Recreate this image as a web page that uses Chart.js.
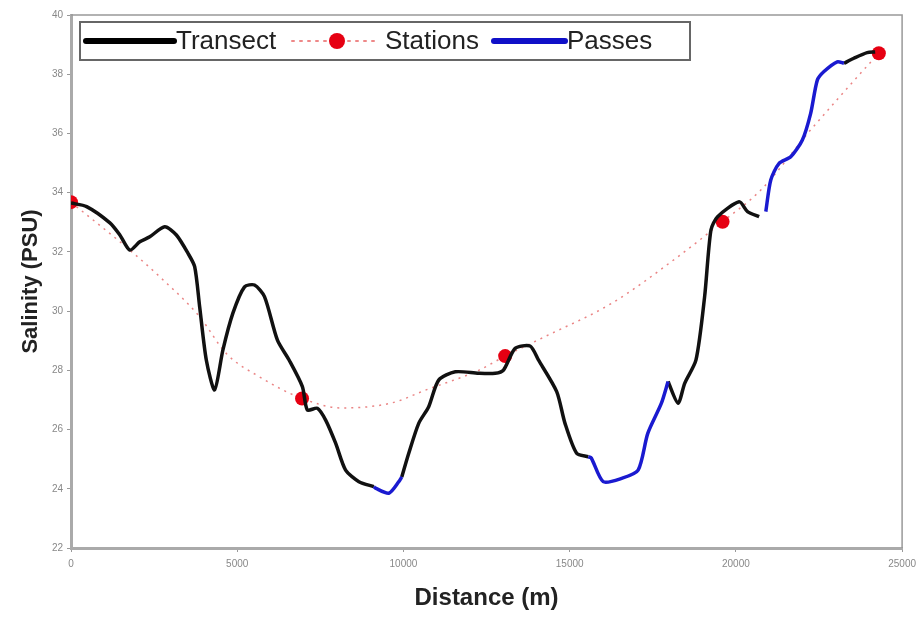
<!doctype html>
<html>
<head>
<meta charset="utf-8">
<script src="https://cdn.jsdelivr.net/npm/chart.js@4.4.0/dist/chart.umd.min.js"></script>
<style>
  html, body { margin: 0; background: #fff; }
</style>
</head>
<body>
<canvas id="c" width="922" height="619"></canvas>
<script>
// transect trace (distance m, salinity PSU)
var transectDist = [0, 470, 1170, 1470, 1770, 2070, 2370, 2820, 3170, 3520, 3720, 3870, 4070, 4320, 4570, 4870,
  5220, 5520, 5820, 6210, 6560, 6960, 7110, 7410, 7660, 7960, 8260, 8660, 9110, 9160, 9560, 9860, 9950,
  10160, 10460, 10760, 11060, 11560, 12260, 12760, 13010, 13360, 13810, 14060, 14610, 14860, 15210, 15560,
  15650, 16010, 16560, 17060, 17350, 17760, 17960, 18260, 18460, 18800, 19060, 19250, 19450, 20100, 20350,
  20700, 20900, 21050, 21300, 21650, 22000, 22250, 22450, 22650, 23050, 23250, 23550, 23950, 24190];
var transectSal = [33.65, 33.53, 32.98, 32.57, 32.06, 32.34, 32.51, 32.85, 32.57, 31.95, 31.5, 30.15, 28.35, 27.34, 28.69, 29.93,
  30.82, 30.88, 30.49, 29.02, 28.35, 27.45, 26.66, 26.72, 26.32, 25.54, 24.63, 24.24, 24.07, 24.02, 23.85, 24.24, 24.4,
  25.2, 26.21, 26.77, 27.67, 27.95, 27.9, 27.9, 28.01, 28.74, 28.82, 28.35, 27.28, 26.21, 25.2, 25.08,
  25.04, 24.24, 24.35, 24.63, 25.87, 26.89, 27.62, 26.89, 27.56, 28.35, 30.49, 32.74, 33.19, 33.69, 33.36,
  33.19, 33.36, 34.43, 34.99, 35.21, 35.78, 36.68, 37.8, 38.09, 38.42, 38.37, 38.54, 38.73, 38.75];

// stretches of the transect that are passes (blue), start/end distances
var passRanges = [[9110, 9950], [15560, 17960], [20900, 23250]];
// where the recorded transect has a hole
var transectGaps = [20800];

var stationDist = [0, 6950, 13060, 19600, 24300];
var stationSal = [33.68, 27.05, 28.48, 33.02, 38.71];

// dotted curve through the stations
var fitDist = [1770, 2670, 3870, 4670, 5670, 8150, 9650, 10660, 12260, 14260, 16260, 18260, 20750, 22250, 23750];
var fitSal = [32.06, 31.16, 29.81, 28.57, 27.78, 26.73, 26.9, 27.33, 28.0, 29.14, 30.26, 31.84, 34.09, 36.12, 38.03];

var xTicks = [0, 5000, 10000, 15000, 20000, 25000];
var yTicks = [22, 24, 26, 28, 30, 32, 34, 36, 38, 40];

function passOf(d) {
  for (var i = 0; i < passRanges.length; i++) {
    if (d >= passRanges[i][0] && d <= passRanges[i][1]) return i;
  }
  return -1;
}

var blackData = [];
var blueData = [];
for (var i = 0; i < transectDist.length; i++) {
  var d = transectDist[i], s = transectSal[i];
  var r = passOf(d);
  var inside = r >= 0 && d > passRanges[r][0] && d < passRanges[r][1];
  var isStart = r >= 0 && d == passRanges[r][0];
  // a pass start right after a gap belongs only to the blue line
  var afterGap = isStart && transectGaps.some(function(g) { return g < d && i > 0 && g > transectDist[i - 1]; });
  blackData.push({x: d, y: (inside || afterGap) ? null : s});
  blueData.push({x: d, y: r >= 0 ? s : null});
}
transectGaps.forEach(function(g) { blackData.push({x: g, y: null}); });
blackData.sort(function(a, b) { return a.x - b.x; });

var fitData = [];
for (var i = 0; i < stationDist.length; i++) fitData.push({x: stationDist[i], y: stationSal[i], st: true});
for (var i = 0; i < fitDist.length; i++) fitData.push({x: fitDist[i], y: fitSal[i], st: false});
fitData.sort(function(a, b) { return a.x - b.x; });

var FONT = "'Liberation Sans', Arial, sans-serif";

var legendBox = {
  id: 'legendBox',
  afterDraw: function(chart) {
    var ctx = chart.ctx, ca = chart.chartArea;
    ctx.save();
    // frame top/right
    ctx.strokeStyle = '#999';
    ctx.lineWidth = 1.5;
    ctx.beginPath();
    ctx.moveTo(ca.left, ca.top); ctx.lineTo(ca.right, ca.top); ctx.lineTo(ca.right, ca.bottom);
    ctx.stroke();

    var x0 = ca.left + 9, y0 = ca.top + 7, w = 610, h = 38, cy = y0 + h / 2;
    ctx.fillStyle = '#fff';
    ctx.fillRect(x0, y0, w, h);
    ctx.strokeStyle = '#666';
    ctx.lineWidth = 2;
    ctx.strokeRect(x0, y0, w, h);

    ctx.font = '26px ' + FONT;
    ctx.fillStyle = '#222';
    ctx.textBaseline = 'middle';

    ctx.lineCap = 'round';
    ctx.strokeStyle = '#000';
    ctx.lineWidth = 6;
    ctx.beginPath(); ctx.moveTo(x0 + 6, cy); ctx.lineTo(x0 + 94, cy); ctx.stroke();
    ctx.fillText('Transect', x0 + 96, cy + 1);

    ctx.strokeStyle = '#e88';
    ctx.lineWidth = 2;
    ctx.setLineDash([2, 6]);
    ctx.beginPath(); ctx.moveTo(x0 + 212, cy); ctx.lineTo(x0 + 298, cy); ctx.stroke();
    ctx.setLineDash([]);
    ctx.fillStyle = '#e60012';
    ctx.beginPath(); ctx.arc(x0 + 257, cy, 8, 0, Math.PI * 2); ctx.fill();
    ctx.fillStyle = '#222';
    ctx.fillText('Stations', x0 + 305, cy + 1);

    ctx.strokeStyle = '#1010c8';
    ctx.lineWidth = 6;
    ctx.beginPath(); ctx.moveTo(x0 + 414, cy); ctx.lineTo(x0 + 485, cy); ctx.stroke();
    ctx.fillText('Passes', x0 + 487, cy + 1);
    ctx.restore();
  }
};

new Chart(document.getElementById('c'), {
  type: 'scatter',
  data: {
    datasets: [
      {
        label: 'Stations',
        data: fitData,
        showLine: true,
        borderColor: 'rgba(230,110,110,0.85)',
        borderWidth: 1.5,
        borderDash: [2, 5],
        tension: 0.4,
        cubicInterpolationMode: 'monotone',
        pointRadius: function(c) { return c.raw && c.raw.st ? 7 : 0; },
        pointBackgroundColor: '#e60012',
        pointBorderWidth: 0,
        order: 3
      },
      {
        label: 'Transect',
        data: blackData,
        showLine: true,
        spanGaps: false,
        borderColor: '#111',
        borderWidth: 3.5,
        tension: 0.25,
        pointRadius: 0,
        order: 2
      },
      {
        label: 'Passes',
        data: blueData,
        showLine: true,
        spanGaps: false,
        borderColor: '#1a1ad0',
        borderWidth: 3.5,
        tension: 0.25,
        pointRadius: 0,
        order: 1
      }
    ]
  },
  options: {
    responsive: false,
    animation: false,
    devicePixelRatio: 1,
    layout: { padding: { top: 15, right: 17, left: 0, bottom: 0 } },
    plugins: { legend: { display: false }, tooltip: { enabled: false } },
    scales: {
      x: {
        type: 'linear', min: 0, max: 25000,
        afterBuildTicks: function(s) { s.ticks = xTicks.map(function(v) { return {value: v}; }); },
        ticks: { color: '#888', font: { family: FONT, size: 10 }, padding: 6, maxRotation: 0,
          callback: function(v) { return String(v); } },
        grid: { drawOnChartArea: false, tickLength: 4, color: '#999' },
        border: { color: '#aaa', width: 3 },
        title: { display: true, text: 'Distance (m)', color: '#222', font: { family: FONT, size: 24, weight: 'bold' }, padding: { top: 4, bottom: 6 } },
        afterFit: function(s) { s.height = 71; }
      },
      y: {
        min: 22, max: 40,
        afterBuildTicks: function(s) { s.ticks = yTicks.map(function(v) { return {value: v}; }); },
        ticks: { color: '#888', font: { family: FONT, size: 10 }, padding: 4 },
        grid: { drawOnChartArea: false, tickLength: 4, color: '#999' },
        border: { color: '#aaa', width: 3 },
        title: { display: true, text: 'Salinity (PSU)', color: '#222', font: { family: FONT, size: 22, weight: 'bold' }, padding: { top: 18, bottom: 4 } },
        afterFit: function(s) { s.width = 71; }
      }
    }
  },
  plugins: [legendBox]
});
</script>
</body>
</html>
